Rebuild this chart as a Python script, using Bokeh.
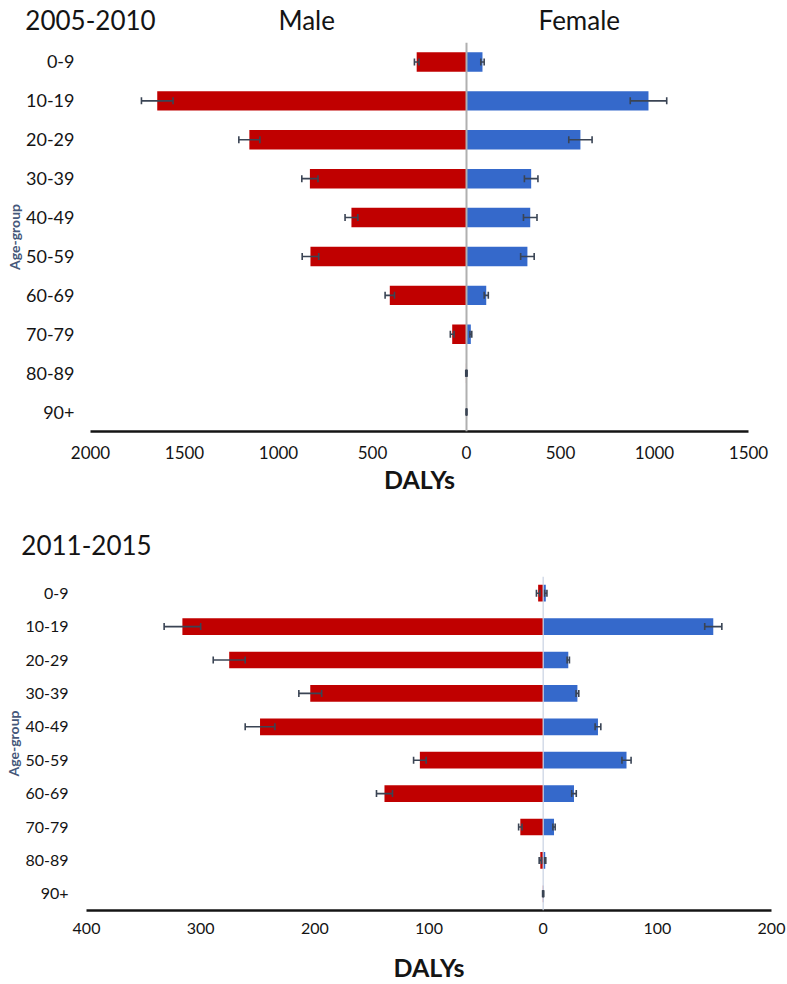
import numpy as np
from bokeh.plotting import figure
from bokeh.models import (Range1d, FixedTicker, CustomJSTickFormatter, Whisker,
                          TeeHead, Span, ColumnDataSource, LinearAxis)
from bokeh.embed import file_html
from bokeh.resources import INLINE

# ---------------- data ----------------
age_groups = ["0-9", "10-19", "20-29", "30-39", "40-49",
              "50-59", "60-69", "70-79", "80-89", "90+"]

# 2005-2010 (DALYs)
male_0510 = [265, 1645, 1155, 833, 612, 830, 408, 76, 3, 1]
male_err_0510 = [12, 84, 56, 43, 34, 44, 25, 10, 1, 0.5]
female_0510 = [85, 968, 606, 344, 339, 324, 105, 23, 2, 1]
female_err_0510 = [9, 97, 62, 36, 36, 36, 11, 5, 1, 0.5]
ticks_0510 = [-2000, -1500, -1000, -500, 0, 500, 1000, 1500]

# 2011-2015 (DALYs)
male_1115 = [4.4, 316, 275, 204, 248, 108, 139, 20, 2.5, 0.3]
male_err_1115 = [1.5, 16, 14, 10, 13, 5.5, 7, 1.5, 1, 0.2]
female_1115 = [2.3, 149, 22, 30, 48, 73, 27, 9.5, 1.8, 0.3]
female_err_1115 = [1, 7.5, 1, 1.2, 2.5, 4, 2, 1, 0.5, 0.2]
ticks_1115 = [-400, -300, -200, -100, 0, 100, 200]

# header texts (period label, sex labels) and where they sit on the x scale
header_0510_text = ["2005-2010", "Male", "Female"]
header_0510_at = [-2000, -850, 600]
header_1115_text = ["2011-2015"]
header_1115_at = [-400]

RED = "#c00000"
BLUE = "#3569cb"
ERR = "#3a4454"
TXT = "#141414"
SLATE = "#46587a"
FONT = "Lato"
W = 787


def make_panel(male, male_err, female, female_err, xticks, xr,
               head_text, head_at, head_standoff,
               height, frame_left, frame_w, frame_top, frame_h,
               zero_color, zero_w, tick_size, cat_size, cat_standoff,
               tick_standoff, lab_standoff, age_standoff):
    ypos = np.arange(len(age_groups)) + 0.5
    m = np.array(male, float)
    me = np.array(male_err, float)
    f = np.array(female, float)
    fe = np.array(female_err, float)
    src = ColumnDataSource(dict(
        y=ypos, mleft=-m, fright=f,
        mlo=-(m + me), mhi=-(m - me), flo=f - fe, fhi=f + fe))

    p = figure(width=W, height=height, x_range=Range1d(*xr),
               y_range=Range1d(len(age_groups), 0),
               output_backend="svg", toolbar_location=None,
               min_border_left=frame_left, min_border_right=W - frame_left - frame_w,
               min_border_top=frame_top, min_border_bottom=height - frame_top - frame_h)
    p.outline_line_color = None
    p.grid.visible = False
    p.background_fill_color = "white"
    p.border_fill_color = "white"

    p.hbar(y="y", left="mleft", right=0, height=0.5, fill_color=RED,
           line_color=None, source=src)
    p.hbar(y="y", left=0, right="fright", height=0.5, fill_color=BLUE,
           line_color=None, source=src)

    p.add_layout(Span(location=0, dimension="height", line_color=zero_color,
                      line_width=zero_w))

    for lo, hi in (("mlo", "mhi"), ("flo", "fhi")):
        p.add_layout(Whisker(source=src, base="y", lower=lo, upper=hi,
                             dimension="width", line_color=ERR, line_width=1.6,
                             level="overlay",
                             lower_head=TeeHead(size=7, line_color=ERR, line_width=1.6),
                             upper_head=TeeHead(size=7, line_color=ERR, line_width=1.6)))

    # x axis (bottom)
    xa = p.xaxis[0]
    xa.ticker = FixedTicker(ticks=xticks)
    xa.formatter = CustomJSTickFormatter(code="return Math.abs(tick).toString();")
    xa.axis_line_color = TXT
    xa.axis_line_width = 2.5
    xa.major_tick_line_color = None
    xa.minor_tick_line_color = None
    xa.major_tick_out = 0
    xa.major_tick_in = 0
    xa.minor_tick_out = 0
    xa.major_label_text_font = FONT
    xa.major_label_text_font_size = tick_size
    xa.major_label_text_color = TXT
    xa.major_label_standoff = tick_standoff
    xa.axis_label = "DALYs"
    xa.axis_label_text_font = FONT
    xa.axis_label_text_font_style = "bold"
    xa.axis_label_text_font_size = "25px"
    xa.axis_label_text_color = TXT
    xa.axis_label_standoff = lab_standoff

    # header row (period + sex labels) as an axis above the frame
    head = LinearAxis(
        ticker=FixedTicker(ticks=head_at),
        formatter=CustomJSTickFormatter(
            args=dict(at=head_at, labels=head_text),
            code="""for (let i = 0; i < at.length; i++) {
                        if (Math.abs(at[i] - tick) < 1e-6) return labels[i];
                    }
                    return '';"""),
        axis_line_color=None, major_tick_line_color=None,
        minor_tick_line_color=None, major_tick_out=0, major_tick_in=0,
        minor_tick_out=0,
        major_label_text_font=FONT, major_label_text_font_size="26px",
        major_label_text_color=TXT, major_label_standoff=head_standoff)
    p.add_layout(head, "above")

    # y axis
    ya = p.yaxis[0]
    ya.ticker = FixedTicker(ticks=list(ypos))
    ya.formatter = CustomJSTickFormatter(args=dict(labels=age_groups),
                                         code="return labels[Math.floor(tick)];")
    ya.axis_line_color = None
    ya.major_tick_line_color = None
    ya.minor_tick_line_color = None
    ya.major_tick_out = 0
    ya.major_tick_in = 0
    ya.minor_tick_out = 0
    ya.major_label_text_font = FONT
    ya.major_label_text_font_size = cat_size
    ya.major_label_text_color = TXT
    ya.major_label_standoff = cat_standoff
    ya.axis_label = "Age-group"
    ya.axis_label_text_font = FONT
    ya.axis_label_text_font_size = "14px"
    ya.axis_label_text_font_style = "bold"
    ya.axis_label_text_color = SLATE
    ya.axis_label_standoff = age_standoff
    return p


p1 = make_panel(male_0510, male_err_0510, female_0510, female_err_0510,
                ticks_0510, (-2000, 1500), header_0510_text, header_0510_at, 7,
                height=500, frame_left=90, frame_w=658, frame_top=42, frame_h=389,
                zero_color="#b0b0b0", zero_w=2,
                tick_size="17px", cat_size="18px", cat_standoff=16,
                tick_standoff=14, lab_standoff=2, age_standoff=0)

p2 = make_panel(male_1115, male_err_1115, female_1115, female_err_1115,
                ticks_1115, (-400, 200), header_1115_text, header_1115_at, 22,
                height=484, frame_left=86, frame_w=685, frame_top=76, frame_h=334,
                zero_color="#c9d2e2", zero_w=1.2,
                tick_size="16px", cat_size="16px", cat_standoff=18,
                tick_standoff=12, lab_standoff=15, age_standoff=0)

open("out.html", "w").write(file_html([p1, p2], INLINE))
